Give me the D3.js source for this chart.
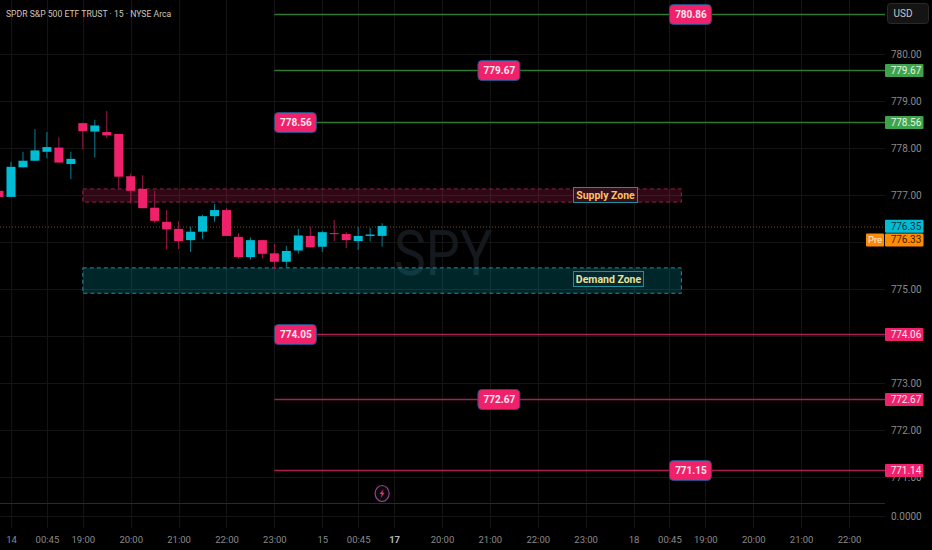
<!DOCTYPE html>
<html lang="en">
<head>
  <meta charset="UTF-8">
  <script src="https://d3js.org/d3.v7.min.js"></script>
  <title>SPY 15</title>
  <style>
    html, body { margin: 0; background: #000; overflow: hidden; }
    svg { display: block; font-family: Roboto, sans-serif; }
    .axis path, .axis line { display: none; }
    .axis text { fill: #8a8a8a; font-size: 10px; font-family: Roboto, sans-serif; }
    .time text { font-size: 9.5px; }
  </style>
</head>
<body>
  <svg id="chart" width="932" height="550"></svg>
  <script>
    const width = 932;
    const height = 550;

    // candles, first one starts at bar index -1
    const opens  = [777.10, 776.97, 777.60, 777.74, 777.93, 778.02, 777.67, 778.54, 778.36, 778.35, 778.31, 777.41, 777.14, 776.74, 776.44, 776.29, 776.05, 776.23, 776.56, 776.69, 776.12, 775.69, 776.05, 775.77, 775.59, 775.83, 776.14, 775.91, 776.20, 776.18, 776.03, 776.14, 776.14];
    const closes = [776.97, 777.61, 777.74, 777.96, 778.03, 777.70, 777.78, 778.37, 778.49, 778.28, 777.40, 777.10, 776.73, 776.46, 776.28, 776.03, 776.23, 776.56, 776.69, 776.14, 775.69, 776.05, 775.76, 775.59, 775.82, 776.15, 775.90, 776.22, 776.18, 776.05, 776.14, 776.17, 776.35];
    const highs  = [777.10, 777.72, 777.93, 778.41, 778.35, 778.24, 777.93, 778.55, 778.61, 778.80, 778.31, 777.47, 777.43, 777.10, 776.69, 776.45, 776.34, 776.59, 776.82, 776.73, 776.20, 776.11, 776.05, 775.97, 775.93, 776.29, 776.34, 776.25, 776.48, 776.22, 776.33, 776.31, 776.41];
    const lows   = [776.97, 776.97, 777.60, 777.74, 777.79, 777.70, 777.35, 777.98, 777.81, 778.22, 777.14, 776.83, 776.73, 776.42, 775.86, 775.86, 775.80, 776.07, 776.44, 776.14, 775.66, 775.63, 775.66, 775.43, 775.46, 775.76, 775.89, 775.80, 776.03, 775.88, 775.84, 776.02, 775.91];
    const firstBar = -1;

    const gridPrices = [780, 779, 778, 777, 776, 775, 774, 773, 772, 771];
    // 776 and 774 sit behind the axis tags in the reference
    const priceTicks = [780, 779, 778, 777, 775, 773, 772, 771];
    const timeTicks = [0, 3, 6, 10, 14, 18, 22, 26, 29, 32, 36, 40, 44, 48, 52, 55, 58, 62, 66, 70];
    const timeLabels = ["14", "00:45", "19:00", "20:00", "21:00", "22:00", "23:00", "15", "00:45", "17", "20:00", "21:00", "22:00", "23:00", "18", "00:45", "19:00", "20:00", "21:00", "22:00"];

    // price, tag on the axis, where the badge sits (bar index)
    const levelPrices = [780.86, 779.67, 778.56, 774.05, 772.67, 771.15];
    const levelTags = [null, 779.67, 778.56, 774.06, 772.67, 771.14];
    const levelBadgeBars = [55, 39, 22, 22, 39, 55];
    const levelStartBar = 22;

    const supplyZone = [777.14, 776.86];
    const demandZone = [775.46, 774.92];
    const zoneBars = [6, 56];

    const lastPrice = 776.35;
    const prePrice = 776.33;
    const flashBar = 31;

    const red = "#f0216b";
    const cyan = "#00bcd4";
    const axisX = 885;

    const svg = d3.select("#chart");
    const x = d3.scaleLinear().domain([0, 70]).range([11, 849]);
    const y = d3.scaleLinear().domain([780, 771]).range([54.5, 477.5]);
    const lowerY = d3.scaleLinear().domain([0, 1]).range([516, 480]);
    const paneY = 503.5;

    // grid
    const grid = svg.append("g").attr("stroke", "#141414").attr("stroke-width", 1);
    grid.selectAll(".v").data(timeTicks).join("line")
      .attr("x1", d => Math.round(x(d)) + 0.5).attr("x2", d => Math.round(x(d)) + 0.5)
      .attr("y1", 0).attr("y2", 528);
    grid.selectAll(".h").data(gridPrices).join("line")
      .attr("x1", 0).attr("x2", axisX)
      .attr("y1", d => y(d)).attr("y2", d => y(d));
    grid.append("line").attr("x1", 0).attr("x2", axisX).attr("y1", lowerY(0) + 0.5).attr("y2", lowerY(0) + 0.5);
    svg.append("line").attr("x1", 0).attr("x2", axisX).attr("y1", paneY).attr("y2", paneY).attr("stroke", "#2a2a2a");

    // watermark, stretched upwards to the reference's letter height
    svg.append("text").attr("transform", "translate(443,275) scale(1.04,1.2)").attr("text-anchor", "middle")
      .attr("font-size", 52).attr("fill", "#15191e").text("SPY");

    // zones
    function zone(vals, fill, stroke) {
      svg.append("rect")
        .attr("x", x(zoneBars[0])).attr("width", x(zoneBars[1]) - x(zoneBars[0]))
        .attr("y", y(vals[0])).attr("height", y(vals[1]) - y(vals[0]))
        .attr("fill", fill).attr("stroke", stroke).attr("stroke-dasharray", "4 3");
    }
    zone(supplyZone, "rgba(240,33,107,0.2)", "#8f1f4a");
    zone(demandZone, "rgba(0,188,212,0.2)", "#1f8f9c");

    // last price dotted line
    svg.append("line").attr("x1", 0).attr("x2", axisX)
      .attr("y1", y(prePrice)).attr("y2", y(prePrice))
      .attr("stroke", "#7a4a10").attr("stroke-dasharray", "1 2");

    // candles
    const bars = opens.map((o, i) => ({ i: i + firstBar, o, c: closes[i], h: highs[i], l: lows[i] }));
    const barColor = d => d.c >= d.o ? cyan : red;
    const wickColor = d => d.c >= d.o ? "#0b7f90" : "#a01a4a";
    svg.append("g").selectAll("line").data(bars).join("line")
      .attr("x1", d => x(d.i)).attr("x2", d => x(d.i))
      .attr("y1", d => y(d.h)).attr("y2", d => y(d.l))
      .attr("stroke", wickColor).attr("stroke-width", 1);
    svg.append("g").selectAll("rect").data(bars).join("rect")
      .attr("x", d => x(d.i) - 4.5).attr("width", 9)
      .attr("y", d => y(Math.max(d.o, d.c)))
      .attr("height", d => Math.max(1, Math.abs(y(d.o) - y(d.c))))
      .attr("fill", barColor);

    // level lines
    const levels = levelPrices.map((p, i) => ({ p, tag: levelTags[i], bar: levelBadgeBars[i], up: p > lastPrice }));
    svg.append("g").selectAll("line").data(levels).join("line")
      .attr("x1", x(levelStartBar)).attr("x2", axisX)
      .attr("y1", d => Math.round(y(d.p)) + 0.5).attr("y2", d => Math.round(y(d.p)) + 0.5)
      .attr("stroke", d => d.up ? "#2f7a33" : "#a81f52").attr("stroke-width", 1.5);

    // price axis
    svg.append("g").attr("class", "axis")
      .attr("transform", `translate(${axisX},0)`)
      .call(d3.axisRight(y).tickValues(priceTicks).tickSize(0).tickPadding(6).tickFormat(d3.format(".2f")));
    svg.append("g").attr("class", "axis")
      .attr("transform", `translate(${axisX},0)`)
      .call(d3.axisRight(lowerY).tickValues([0]).tickSize(0).tickPadding(6).tickFormat(d3.format(".4f")));

    // time axis
    const timeAxis = svg.append("g").attr("class", "axis time")
      .attr("transform", "translate(0,536)")
      .call(d3.axisBottom(x).tickValues(timeTicks).tickSize(0).tickPadding(0).tickFormat((d, i) => timeLabels[i]));
    timeAxis.selectAll("text").filter(d => d === 32).attr("font-weight", "bold").style("fill", "#b5b5b5");

    // badges on the lines
    const badges = svg.append("g").selectAll("g").data(levels).join("g")
      .attr("transform", d => `translate(${x(d.bar)},${Math.round(y(d.p)) + 0.5})`);
    badges.append("rect").attr("x", 0).attr("y", -10).attr("width", 42).attr("height", 20).attr("rx", 4)
      .attr("fill", red).attr("stroke", "#1f4f80").attr("stroke-width", 1);
    badges.append("text").attr("x", 21.5).attr("y", 3.5).attr("text-anchor", "middle")
      .attr("font-size", 10).attr("font-weight", 700).attr("fill", "#fbe6ee").text(d => d.p.toFixed(2));

    // tags on the price axis
    function tag(val, yy, fill, color) {
      const g = svg.append("g").attr("transform", `translate(${axisX},${yy})`);
      g.append("rect").attr("x", 0).attr("y", -6.5).attr("width", 38.5).attr("height", 13).attr("rx", 1).attr("fill", fill);
      g.append("text").attr("x", 21).attr("y", 3.5).attr("text-anchor", "middle")
        .attr("font-size", 10).attr("fill", color).text(val.toFixed(2));
    }
    levels.filter(d => d.tag !== null).forEach(d => {
      tag(d.tag, Math.round(y(d.p)) + 0.5, d.up ? "#3fa34d" : red, d.up ? "#e6f5e0" : "#fbe6ee");
    });
    tag(lastPrice, y(lastPrice) + 0.3, cyan, "#05323a");
    tag(prePrice, y(prePrice) + 13, "#ff8c00", "#3a2000");
    svg.append("rect").attr("x", 866).attr("y", y(prePrice) + 6.5).attr("width", 18).attr("height", 13).attr("rx", 1).attr("fill", "#ff8c00");
    svg.append("text").attr("x", 875).attr("y", y(prePrice) + 16.5).attr("text-anchor", "middle")
      .attr("font-size", 9.5).attr("fill", "#fff0dc").text("Pre");

    // zone labels
    function zoneLabel(label, px, yy, w, fill, color) {
      svg.append("rect").attr("x", px).attr("y", yy).attr("width", w).attr("height", 15)
        .attr("fill", fill).attr("stroke", "#1f8f9c");
      svg.append("text").attr("x", px + w / 2).attr("y", yy + 11.5).attr("text-anchor", "middle")
        .attr("font-size", 10.5).attr("font-weight", 700).attr("fill", color).text(label);
    }
    zoneLabel("Supply Zone", 573.5, 187.5, 64, "#33101e", "#ffc060");
    zoneLabel("Demand Zone", 573.5, 271.5, 70, "#04282e", "#e6e29a");

    // title and currency box
    svg.append("text").attr("x", 6).attr("y", 16.5).attr("font-size", 8.65).attr("fill", "#cfc6bc")
      .text("SPDR S&P 500 ETF TRUST · 15 · NYSE Arca");
    svg.append("rect").attr("x", 887.5).attr("y", 3.5).attr("width", 41).attr("height", 20).attr("rx", 3)
      .attr("fill", "#141414").attr("stroke", "#2a2a2a");
    svg.append("text").attr("x", 893.5).attr("y", 17).attr("font-size", 10).attr("fill", "#c8c8c8").text("USD");

    // flash marker
    const flash = svg.append("g").attr("transform", `translate(${x(flashBar)},493.5)`);
    flash.append("ellipse").attr("rx", 7).attr("ry", 8).attr("fill", "#0a0a0a").attr("stroke", "#9c3f95").attr("stroke-width", 1.2);
    flash.append("path").attr("d", "M1.5,-4.5 L-2.5,0.5 L-0.3,0.5 L-1.5,4.5 L2.5,-0.8 L0.3,-0.8 Z").attr("fill", "#e0357a");
  </script>
</body>
</html>
